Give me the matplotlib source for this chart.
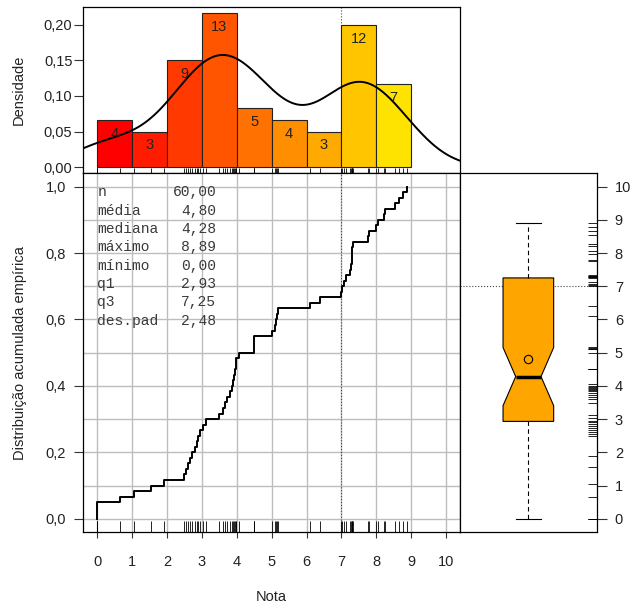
import numpy as np
import matplotlib
matplotlib.use("Agg")
from matplotlib import pyplot as plt

notas = [0, 0, 0, 0.65,
         1.05, 1.55, 1.9,
         2.5, 2.55, 2.6, 2.66, 2.73, 2.8, 2.86, 2.9, 2.94,
         3.03, 3.13, 3.48, 3.6, 3.67, 3.73, 3.8, 3.85, 3.88, 3.91, 3.94, 3.97, 3.99,
         4.06, 4.5, 4.5, 4.5, 5.0,
         5.1, 5.12, 5.15, 5.18,
         6.1, 6.4, 7.0,
         7.03, 7.08, 7.14, 7.24, 7.28, 7.29, 7.3, 7.31, 7.33,
         7.75, 7.78, 7.98,
         8.06, 8.22, 8.26, 8.55, 8.65, 8.78, 8.89]
bins = [0, 1, 2, 3, 4, 5, 6, 7, 8, 9]
ticks_x = [0, 1, 2, 3, 4, 5, 6, 7, 8, 9, 10]
grid_y = [0, 0.1, 0.2, 0.3, 0.4, 0.5, 0.6, 0.7, 0.8, 0.9, 1.0]
ref = 7
bar_colors = ['#FF0000', '#FF1C00', '#FF3900', '#FF5500', '#FF7100',
              '#FF8E00', '#FFAA00', '#FFC600', '#FFE300']

x = np.array(notas, dtype=float)
n = len(x)
edges = np.array(bins, dtype=float)

# histograma fechado a direita (como o hist do R)
counts = []
for i in range(len(edges) - 1):
    a, b = edges[i], edges[i + 1]
    if i == 0:
        counts.append(int(((x >= a) & (x <= b)).sum()))
    else:
        counts.append(int(((x > a) & (x <= b)).sum()))
counts = np.array(counts)
dens = counts / (n * np.diff(edges))

# densidade kernel, bw.nrd0
sd = x.std(ddof=1)
q1, med, q3 = np.percentile(x, [25, 50, 75])
bw = 0.9 * min(sd, (q3 - q1) / 1.34) * n ** (-0.2)
grid = np.linspace(x.min() - 3 * bw, x.max() + 3 * bw, 512)
kde = np.exp(-0.5 * ((grid[:, None] - x[None, :]) / bw) ** 2).sum(axis=1) / (n * bw * np.sqrt(2 * np.pi))

def fmt(v, d=2):
    return f"{v:.{d}f}".replace('.', ',')

plt.rcParams['font.family'] = ['Liberation Sans', 'DejaVu Sans']
plt.rcParams['font.size'] = 10.5
txt = '#222222'

fig = plt.figure(figsize=(6.34, 6.09), dpi=100)
W, H = 634, 609
L, R = 83.3, 460.0
ax_h = fig.add_axes([L / W, 1 - 173.3 / H, (R - L) / W, (173.3 - 6.7) / H])
ax_e = fig.add_axes([L / W, 1 - 532 / H, (R - L) / W, (532 - 173.3) / H])
ax_b = fig.add_axes([R / W, 1 - 532 / H, (596.7 - R) / W, (532 - 173.3) / H])

xlim = (-0.4, 10.4)

# ---- histograma
ax_h.bar(edges[:-1], dens, width=np.diff(edges), align='edge',
         color=bar_colors, edgecolor='#222222', linewidth=0.8, zorder=2)
for xi, d, c in zip(edges[:-1] + 0.5, dens, counts):
    ax_h.annotate(str(c), (xi, d), xytext=(0, -10), textcoords='offset points',
                  ha='center', va='center', color=txt, fontsize=10.5, zorder=4)
ax_h.plot(grid, kde, color='black', lw=1.4, zorder=3)
ax_h.axvline(ref, color='#444444', ls=':', lw=0.8, zorder=1)
ax_h.vlines(x, 0, 0.03, transform=ax_h.get_xaxis_transform(), color='black', lw=0.6)
ymax = dens.max()
ax_h.set_xlim(xlim)
ax_h.set_ylim(-0.04 * ymax, 1.04 * ymax)
ax_h.set_xticks([])
ax_h.set_yticks([0, 0.05, 0.10, 0.15, 0.20])
ax_h.set_yticklabels([fmt(v) for v in [0, 0.05, 0.10, 0.15, 0.20]], color=txt)
ax_h.tick_params(axis='y', length=6.3, width=0.8, pad=1.5, color='#333333')

# ---- ECDF
for v in ticks_x:
    ax_e.plot([v, v], [-0.04, 1.04], color='#bdbdbd', lw=1.0, zorder=1,
              solid_capstyle='butt')
for v in grid_y:
    ax_e.plot([-0.4, 10.4], [v, v], color='#bdbdbd', lw=1.0, zorder=1,
              solid_capstyle='butt')
ax_e.axvline(ref, color='#444444', ls=':', lw=0.8, zorder=2)
xs = np.sort(x)
ys = np.arange(1, n + 1) / n
ax_e.step(np.concatenate([[xs[0]], xs]), np.concatenate([[0], ys]), where='post',
          color='black', lw=1.4, zorder=3)
ax_e.vlines(x, 0, 0.03, transform=ax_e.get_xaxis_transform(), color='black', lw=0.6, zorder=3)
ax_e.set_xlim(xlim)
ax_e.set_ylim(-0.04, 1.04)
ax_e.set_xticks(ticks_x)
ax_e.set_xticklabels([str(v) for v in ticks_x], color=txt)
ax_e.set_yticks([0, 0.2, 0.4, 0.6, 0.8, 1.0])
ax_e.set_yticklabels([fmt(v, 1) for v in [0, 0.2, 0.4, 0.6, 0.8, 1.0]], color=txt)
ax_e.tick_params(axis='x', length=4.3, width=0.8, pad=12, color='#333333')
ax_e.tick_params(axis='y', length=6.3, width=0.8, pad=6, color='#333333')

stats = [('n', fmt(n)), ('média', fmt(x.mean())), ('mediana', fmt(med)),
         ('máximo', fmt(x.max())), ('mínimo', fmt(x.min())), ('q1', fmt(q1)),
         ('q3', fmt(q3)), ('des.pad', fmt(sd))]
for i, (lab, val) in enumerate(stats):
    yy = 0.983 - i * 0.0552
    ax_e.text(0, yy, lab, family='Liberation Mono', fontsize=10.5, color='#3a3a3a',
              ha='left', va='center', zorder=5)
    ax_e.text(3.41, yy, val, family='Liberation Mono', fontsize=10.5, color='#3a3a3a',
              ha='right', va='center', zorder=5)

# ---- boxplot
ax_b.axhline(ref, color='#444444', ls=':', lw=0.8, zorder=1)
ax_b.boxplot([x], positions=[1], widths=0.4, notch=True, patch_artist=True,
             showmeans=True, showfliers=False,
             boxprops=dict(facecolor='#FFA500', edgecolor='black', lw=0.8),
             medianprops=dict(color='black', lw=2.5),
             whiskerprops=dict(color='black', lw=0.8, ls=(0, (4, 3))),
             capprops=dict(color='black', lw=0.8),
             meanprops=dict(marker='o', markerfacecolor='none', markeredgecolor='black',
                            markersize=6, markeredgewidth=0.8))
ax_b.hlines(x, 0.935, 1.0, transform=ax_b.get_yaxis_transform(), color='black', lw=0.6)
ax_b.set_xlim(0.46, 1.54)
ax_b.set_ylim(xlim)
ax_b.set_xticks([])
ax_b.yaxis.tick_right()
ax_b.set_yticks(ticks_x)
ax_b.set_yticklabels([str(v) for v in ticks_x], color=txt)
ax_b.tick_params(axis='y', length=7, width=0.8, pad=6, color='#333333')

for a in (ax_h, ax_e, ax_b):
    for s in a.spines.values():
        s.set_linewidth(0.9)
        s.set_color('black')

fig.text(18.5 / W, 1 - 90 / H, 'Densidade', rotation=90, ha='center', va='center', color=txt)
fig.text(20 / W, 1 - 352.7 / H, 'Distribuição acumulada empírica', rotation=90,
         ha='center', va='center', color=txt)
fig.text(271.7 / W, 1 - 596.7 / H, 'Nota', ha='center', va='center', color=txt)

fig.savefig('out.png', dpi=100)
